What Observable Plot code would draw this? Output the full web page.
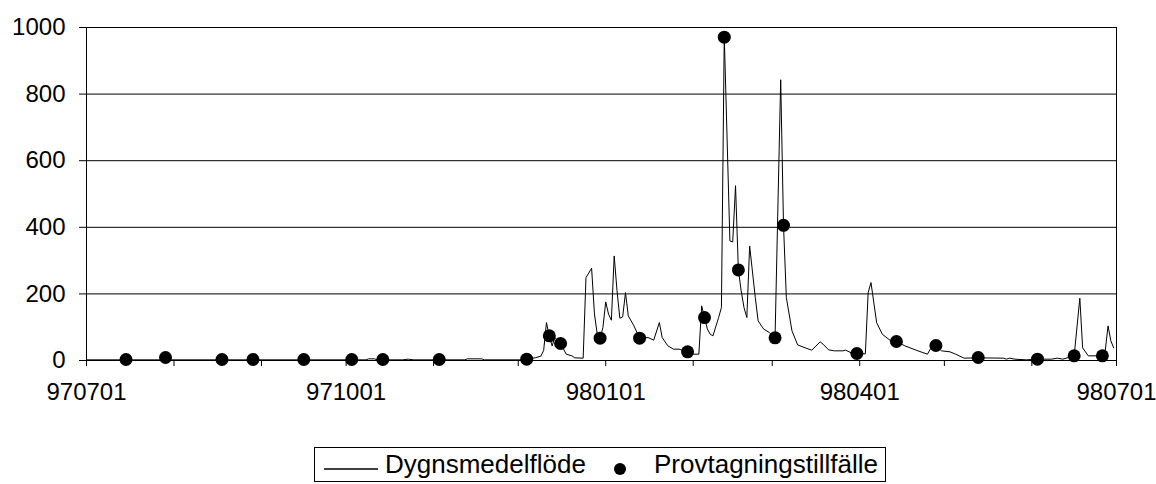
<!DOCTYPE html>
<html>
<head>
<meta charset="utf-8">
<script src="https://cdn.jsdelivr.net/npm/d3@7"></script>
<script src="https://cdn.jsdelivr.net/npm/@observablehq/plot@0.6"></script>
<style>
  html, body { margin: 0; padding: 0; background: #fff; }
  #wrap { position: relative; width: 1156px; height: 484px; overflow: hidden; font-family: "Liberation Sans", Arial, sans-serif; }
  #legend { position: absolute; left: 314px; top: 447px; width: 572px; height: 35px; border: 1px solid #000; box-sizing: border-box; background: #fff; }
  #legend .txt { position: absolute; top: 1px; font-size: 26px; line-height: 31px; color: #000; white-space: nowrap; }
  #legend svg { position: absolute; top: 0; left: 0; }
</style>
</head>
<body>
<div id="wrap"><div id="chart"></div></div>
<script>
// Dygnsmedelflöde (daily mean flow) – vertices
const flowDates = [
  "1997-07-01","1997-07-27","1997-07-29","1997-07-31","1997-10-08","1997-10-09","1997-10-11","1997-10-12",
  "1997-10-21","1997-10-23","1997-10-25","1997-11-12","1997-11-13","1997-11-18","1997-11-19",
  "1997-12-02","1997-12-04","1997-12-07","1997-12-09","1997-12-10","1997-12-11","1997-12-12","1997-12-13",
  "1997-12-14","1997-12-15","1997-12-16","1997-12-18","1997-12-20","1997-12-21","1997-12-24","1997-12-25",
  "1997-12-27","1997-12-28","1997-12-29","1997-12-30","1997-12-31","1998-01-01","1998-01-02","1998-01-03",
  "1998-01-04","1998-01-05","1998-01-06","1998-01-07","1998-01-08","1998-01-09","1998-01-11","1998-01-13",
  "1998-01-16","1998-01-18","1998-01-20","1998-01-21","1998-01-23","1998-01-25","1998-01-27","1998-01-30",
  "1998-02-01","1998-02-03","1998-02-04","1998-02-05","1998-02-06","1998-02-07","1998-02-08","1998-02-10",
  "1998-02-11","1998-02-12","1998-02-14","1998-02-15","1998-02-16","1998-02-17","1998-02-18","1998-02-19",
  "1998-02-20","1998-02-21","1998-02-23","1998-02-24","1998-02-26","1998-02-28","1998-03-02","1998-03-04",
  "1998-03-05","1998-03-06","1998-03-08","1998-03-10","1998-03-13","1998-03-15","1998-03-18","1998-03-19",
  "1998-03-21","1998-03-23","1998-03-26","1998-03-27","1998-03-29","1998-03-31","1998-04-03","1998-04-04",
  "1998-04-05","1998-04-07","1998-04-09","1998-04-12","1998-04-14","1998-04-17","1998-04-21","1998-04-25",
  "1998-04-26","1998-04-28","1998-04-30","1998-05-03","1998-05-05","1998-05-08","1998-05-13","1998-05-22",
  "1998-05-23","1998-05-24","1998-05-26","1998-05-30","1998-06-03","1998-06-08","1998-06-10","1998-06-12",
  "1998-06-16","1998-06-18","1998-06-19","1998-06-21","1998-06-26","1998-06-27","1998-06-28","1998-06-29",
  "1998-06-30"
];
const flowValues = [
  2,2,8,2,2,5,5,2,
  2,4,2,2,5,5,2,
  2,5,8,13,30,114,72,44,
  69,59,51,19,14,8,7,249,
  277,140,79,67,99,176,139,121,
  314,209,127,131,204,134,104,67,
  69,61,114,69,44,34,34,26,
  19,19,164,129,95,79,74,129,
  159,976,359,356,525,272,209,159,
  129,344,189,119,94,84,69,843,
  406,189,89,47,37,31,56,49,
  32,29,29,31,23,20,20,204,
  234,114,79,59,57,44,31,19,
  34,44,29,26,19,7,8,7,
  4,7,4,2,4,4,7,4,
  14,187,38,14,14,29,104,59,
  38
];

// Provtagningstillfälle (sampling occasions)
const sampleDates = [
  "1997-07-15","1997-07-29","1997-08-18","1997-08-29","1997-09-16","1997-10-03","1997-10-14","1997-11-03",
  "1997-12-04","1997-12-12","1997-12-16","1997-12-30","1998-01-13","1998-01-30","1998-02-05","1998-02-12",
  "1998-02-17","1998-03-02","1998-03-05","1998-03-31","1998-04-14","1998-04-28","1998-05-13","1998-06-03",
  "1998-06-16","1998-06-26"
];
const sampleValues = [
  3,9,3,3,3,3,3,3,
  4,74,51,67,67,26,129,971,
  272,68,406,21,57,45,9,4,
  14,14
];

const yTicks = [0, 200, 400, 600, 800, 1000];
const xLabelDates = ["1997-07-01","1997-10-01","1998-01-01","1998-04-01","1998-07-01"];
const xLabels = ["970701","971001","980101","980401","980701"];
const seriesNames = ["Dygnsmedelflöde", "Provtagningstillfälle"];

const parse = d3.utcParse("%Y-%m-%d");
const flow = flowDates.map((d, i) => ({date: parse(d), value: flowValues[i]}));
const samples = sampleDates.map((d, i) => ({date: parse(d), value: sampleValues[i]}));
const x0 = parse("1997-07-01"), x1 = parse("1998-07-01");
const monthTicks = d3.utcMonth.range(x0, d3.utcDay.offset(x1, 1));
const labelTicks = xLabelDates.map(parse);
const labelFor = d => { const i = labelTicks.findIndex(t => +t === +d); return i < 0 ? "" : xLabels[i]; };

const chart = Plot.plot({
  width: 1156,
  height: 440,
  marginLeft: 86,
  marginRight: 40,
  marginTop: 27,
  marginBottom: 80,
  style: {fontFamily: "'Liberation Sans', Arial, sans-serif", fontSize: "24px", background: "white", color: "black", overflow: "visible"},
  x: {type: "utc", domain: [x0, x1]},
  y: {domain: [0, 1000]},
  marks: [
    Plot.ruleY(yTicks, {stroke: "black", strokeWidth: 1}),
    Plot.ruleX([x0, x1], {stroke: "black", strokeWidth: 1}),
    Plot.axisY({ticks: yTicks, tickSize: 7, tickPadding: 14, tickFormat: d3.format("d"), label: null}),
    Plot.axisX({ticks: monthTicks, tickSize: 6, tickFormat: () => "", label: null}),
    Plot.axisX({ticks: labelTicks, tickSize: 0, tickPadding: 22, tickFormat: labelFor, label: null}),
    Plot.line(flow, {x: "date", y: "value", stroke: "black", strokeWidth: 1}),
    Plot.dot(samples, {x: "date", y: "value", r: 6.5, fill: "black", stroke: "none"})
  ]
});
document.getElementById("chart").appendChild(chart);

// Legend below the chart
const legend = document.createElement("div");
legend.id = "legend";
legend.innerHTML =
  `<svg width="570" height="33"><line x1="9" x2="63" y1="21" y2="21" stroke="black" stroke-width="1.5"/>` +
  `<circle cx="305" cy="21" r="6" fill="black"/></svg>` +
  `<span class="txt" style="left:70px">${seriesNames[0]}</span>` +
  `<span class="txt" style="left:339px">${seriesNames[1]}</span>`;
document.getElementById("wrap").appendChild(legend);
</script>
</body>
</html>
